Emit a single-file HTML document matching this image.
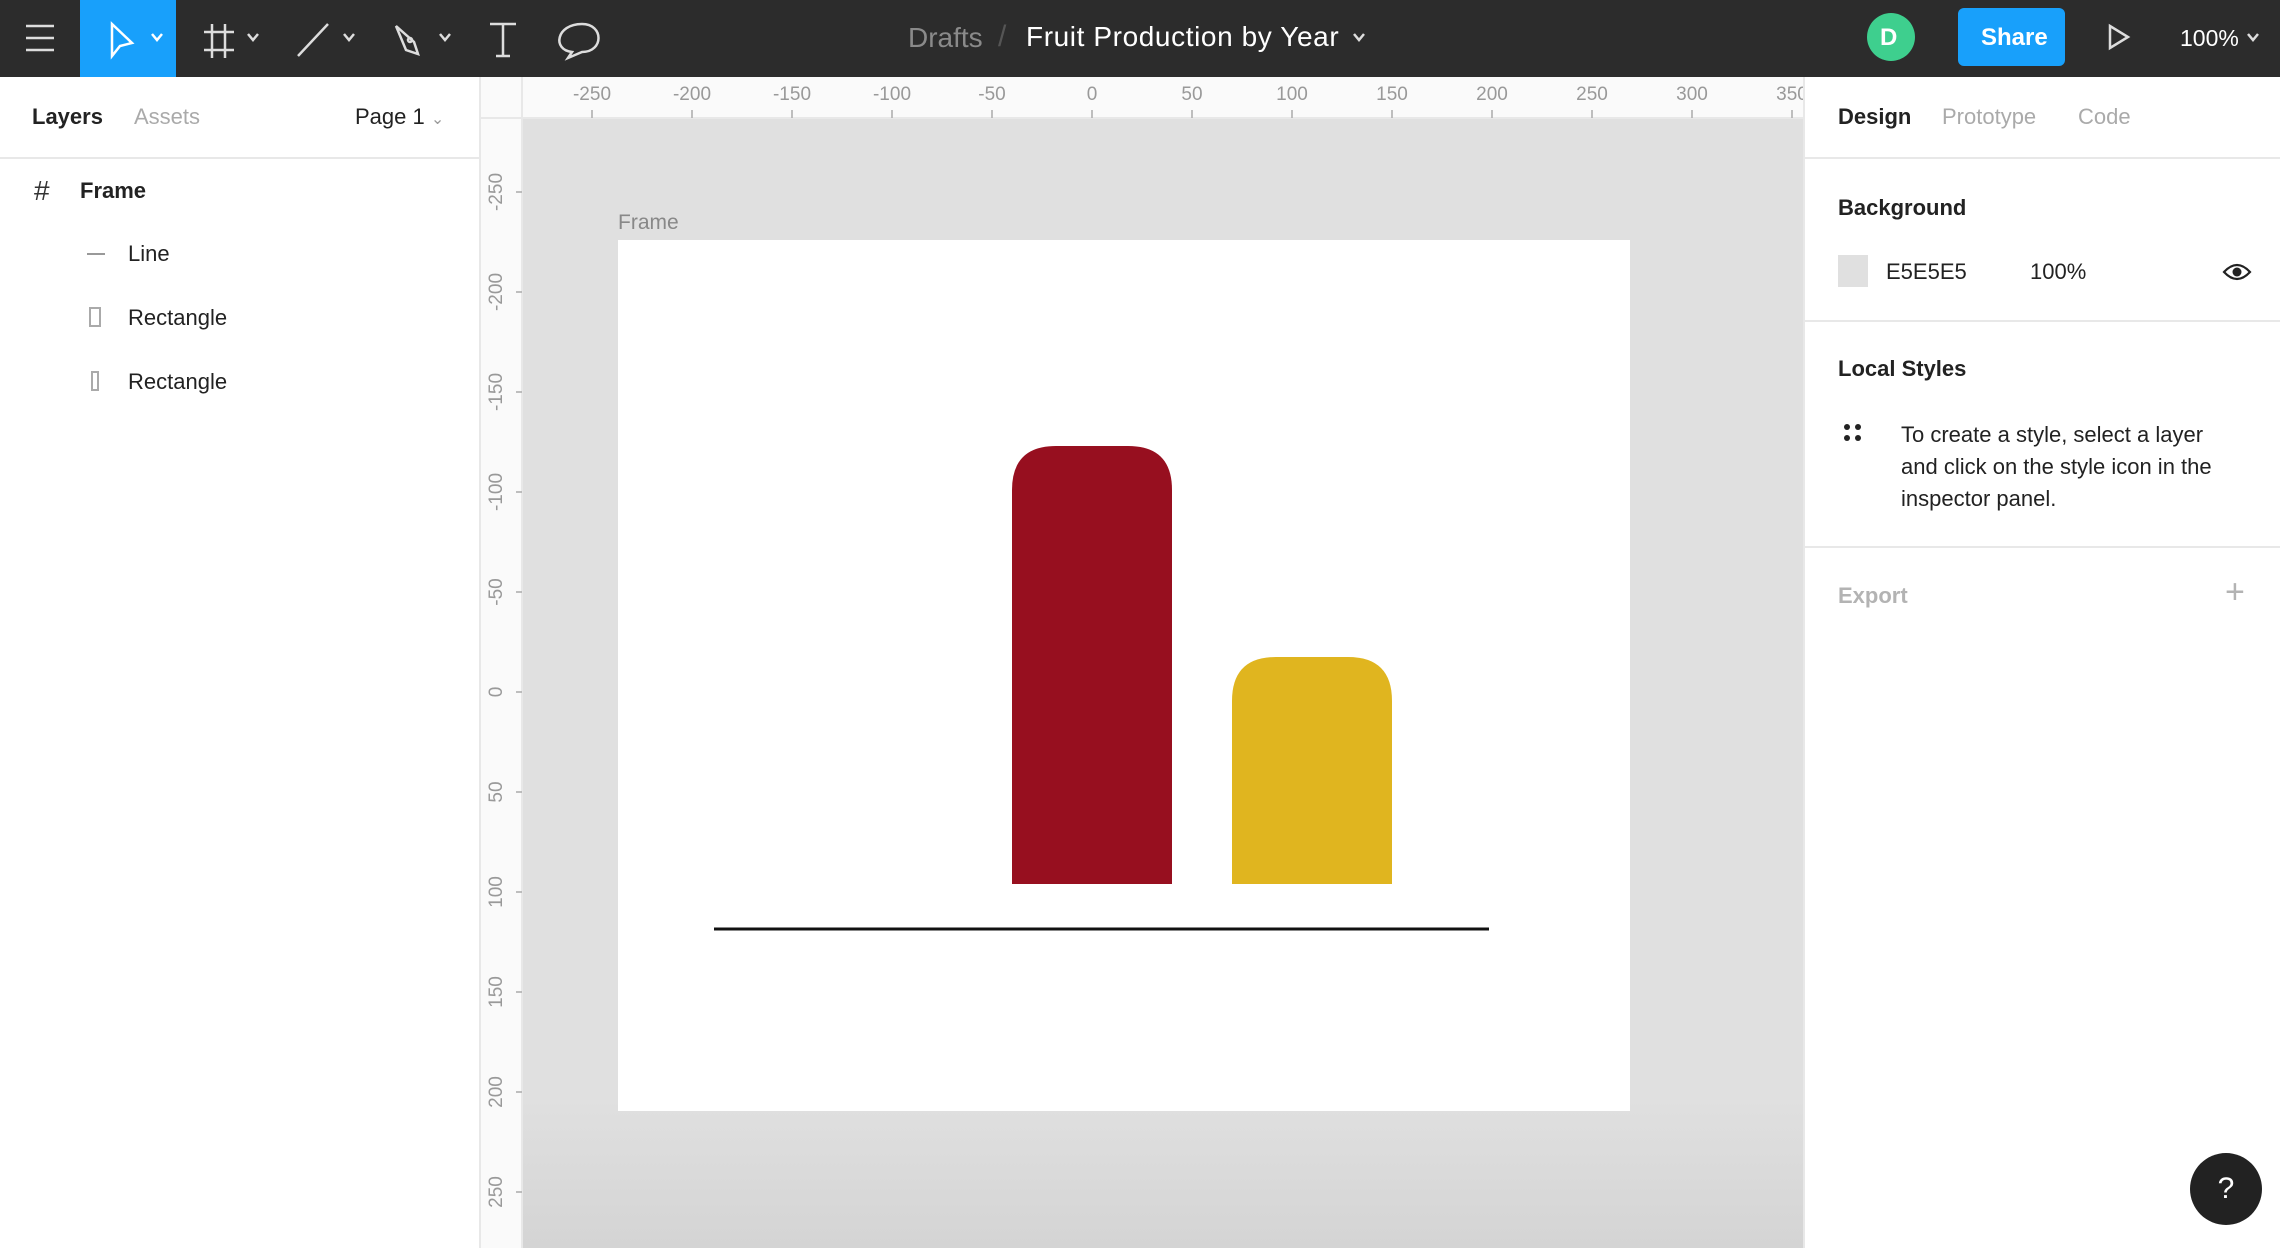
<!DOCTYPE html>
<html><head><meta charset="utf-8">
<style>
*{box-sizing:border-box;margin:0;padding:0}
body{width:2280px;height:1248px;overflow:hidden;position:relative;font-family:"Liberation Sans",sans-serif;background:#fff;color:#222}
.abs{position:absolute}
#toolbar{left:0;top:0;width:2280px;height:77px;background:#2c2c2c}
.t{position:absolute;white-space:nowrap}
#left{left:0;top:77px;width:481px;height:1171px;background:#fff;border-right:2px solid #e8e8e8}
#right{left:1803px;top:77px;width:477px;height:1171px;background:#fff;border-left:2px solid #e8e8e8}
#canvas{left:481px;top:77px;width:1322px;height:1171px;background:#e0e0e0;overflow:hidden}
.hr{height:2px;background:#e8e8e8;position:absolute;left:0;width:100%}
</style></head><body>
<div id="toolbar" class="abs">
  <svg class="abs" style="left:0;top:0" width="2280" height="77">
    <g stroke="#ddd" stroke-width="2.5" fill="none">
      <path d="M26 26h28M26 38h28M26 50h28"/>
    </g>
    <rect x="80" y="0" width="96" height="77" fill="#18a0fb"/>
    <g stroke="#fff" stroke-width="2.5" fill="none">
      <path d="M112 24 L112 56 L120 46 L132 43 Z"/><path d="M152 34l5 6 5-6"/>
    </g>
    <g stroke="#ddd" stroke-width="2.5" fill="none">
      <path d="M212 24v34M225 24v34M204 32h30M204 50h30"/><path d="M248 34l5 6 5-6"/>
      <path d="M298 56 L328 24"/><path d="M344 34l5 6 5-6"/>
      <path d="M396 26 L414 42 L418 54 L406 50 Z"/><circle cx="410" cy="40" r="2"/><path d="M440 34l5 6 5-6"/>
      <path d="M490 24h26M503 24v32M496 56h14"/>
      <path d="M572 52 C552 50 556 24 582 24 C604 24 604 52 582 52 L568 58 Z"/>
    </g>
    <circle cx="1891" cy="37" r="24" fill="#3ecf8e"/>
    <rect x="1958" y="8" width="107" height="58" rx="6" fill="#18a0fb"/>
    <path d="M2110 26 L2110 48 L2128 37 Z" stroke="#ddd" stroke-width="2.5" fill="none"/>
    <path d="M2248 34l5 6 5-6" stroke="#ddd" stroke-width="2.5" fill="none"/>
    <path d="M1354 34l5 6 5-6" stroke="#ddd" stroke-width="2.5" fill="none"/>
  </svg>
  <div class="t" style="left:908px;top:22px;font-size:28px;color:#8a8a8a">Drafts</div>
  <div class="t" style="left:998px;top:20px;font-size:30px;color:#555">/</div>
  <div class="t" style="left:1026px;top:21px;font-size:28px;color:#fff;letter-spacing:0.6px">Fruit Production by Year</div>
  <div class="t" style="left:1880px;top:24px;font-size:24px;color:#fff;font-weight:bold">D</div>
  <div class="t" style="left:1981px;top:24px;font-size:24px;color:#fff;font-weight:bold">Share</div>
  <div class="t" style="left:2180px;top:25px;font-size:23px;color:#fff">100%</div>
</div>

<div id="left" class="abs">
  <div class="t" style="left:32px;top:27px;font-size:22px;font-weight:bold">Layers</div>
  <div class="t" style="left:134px;top:27px;font-size:22px;color:#aaa">Assets</div>
  <div class="t" style="left:355px;top:27px;font-size:22px">Page 1 <span style="color:#999;font-size:16px">&#8964;</span></div>
  <div class="hr" style="top:80px"></div>
  <div class="t" style="left:34px;top:98px;font-size:28px;color:#333">#</div>
  <div class="t" style="left:80px;top:101px;font-size:22px;font-weight:bold">Frame</div>
  <div class="abs" style="left:87px;top:176px;width:18px;height:2px;background:#999"></div>
  <div class="t" style="left:128px;top:164px;font-size:22px">Line</div>
  <div class="abs" style="left:89px;top:230px;width:12px;height:20px;border:2px solid #aaa"></div>
  <div class="t" style="left:128px;top:228px;font-size:22px">Rectangle</div>
  <div class="abs" style="left:91px;top:294px;width:8px;height:20px;border:2px solid #aaa"></div>
  <div class="t" style="left:128px;top:292px;font-size:22px">Rectangle</div>
</div>

<div id="canvas" class="abs">
  <div class="abs" style="left:0;top:1020px;width:1322px;height:151px;background:linear-gradient(#e0e0e0,#d4d4d4)"></div>
  <svg id="rulers" class="abs" style="left:0;top:0" width="1322" height="1171"></svg>
  <div class="t" style="left:137px;top:134px;font-size:21px;color:#888">Frame</div>
  <div class="abs" style="left:137px;top:163px;width:1012px;height:871px;background:#fff"></div>
  <svg id="chart" class="abs" style="left:0;top:0" width="1322" height="1171"></svg>
</div>

<div id="right" class="abs">
  <div class="t" style="left:33px;top:27px;font-size:22px;font-weight:bold">Design</div>
  <div class="t" style="left:137px;top:27px;font-size:22px;color:#aaa">Prototype</div>
  <div class="t" style="left:273px;top:27px;font-size:22px;color:#aaa">Code</div>
  <div class="hr" style="top:80px"></div>
  <div class="t" style="left:33px;top:118px;font-size:22px;font-weight:bold">Background</div>
  <div class="abs" style="left:33px;top:178px;width:30px;height:32px;background:#e0e0e0"></div>
  <div class="t" style="left:81px;top:182px;font-size:22px">E5E5E5</div>
  <div class="t" style="left:225px;top:182px;font-size:22px">100%</div>
  <svg class="abs" style="left:417px;top:183px" width="30" height="24"><path d="M2 12 Q15 -2 28 12 Q15 26 2 12Z" fill="none" stroke="#222" stroke-width="2.2"/><circle cx="15" cy="12" r="4.5" fill="#222"/></svg>
  <div class="hr" style="top:243px"></div>
  <div class="t" style="left:33px;top:279px;font-size:22px;font-weight:bold">Local Styles</div>
  <svg class="abs" style="left:38px;top:346px" width="20" height="20"><circle cx="4" cy="4" r="3" fill="#222"/><circle cx="15" cy="4" r="3" fill="#222"/><circle cx="4" cy="15" r="3" fill="#222"/><circle cx="15" cy="15" r="3" fill="#222"/></svg>
  <div class="t" style="left:96px;top:342px;font-size:22px;line-height:32px">To create a style, select a layer<br>and click on the style icon in the<br>inspector panel.</div>
  <div class="hr" style="top:469px"></div>
  <div class="t" style="left:33px;top:506px;font-size:22px;font-weight:bold;color:#b3b3b3">Export</div>
  <div class="t" style="left:420px;top:496px;font-size:34px;color:#b3b3b3">+</div>
  <div class="abs" style="left:385px;top:1076px;width:72px;height:72px;border-radius:50%;background:#222;color:#fff;font-size:30px;text-align:center;line-height:72px">?</div>
</div>

<script>
const NS='http://www.w3.org/2000/svg';
const hTicks=[-250,-200,-150,-100,-50,0,50,100,150,200,250,300,350];
const vTicks=[-250,-200,-150,-100,-50,0,50,100,150,200,250];
const categories=['Apples','Bananas'];
const values=[219,113.5];
const colors=['#970f1f','#e0b51f'];

function mk(t,a,p){const e=document.createElementNS(NS,t);for(const k in a)e.setAttribute(k,a[k]);p.appendChild(e);return e;}
const X0=611, Y0=615, U=2;
const sx=v=>X0+v*U;
const sy=v=>Y0+v*U;

const r=document.getElementById('rulers');
mk('rect',{x:0,y:0,width:1322,height:41,fill:'#fafafa'},r);
mk('rect',{x:0,y:0,width:41,height:1171,fill:'#fafafa'},r);
mk('line',{x1:0,y1:41,x2:1322,y2:41,stroke:'#e8e8e8','stroke-width':2},r);
mk('line',{x1:41,y1:0,x2:41,y2:1171,stroke:'#e8e8e8','stroke-width':2},r);
hTicks.forEach(v=>{
  const l=mk('line',{x1:sx(v),y1:33,x2:sx(v),y2:41,stroke:'#aaa','stroke-width':1.5},r);
  
  
  const t=mk('text',{x:sx(v),y:23,'text-anchor':'middle','font-size':19,fill:'#999','font-family':'Liberation Sans'},r);
  t.textContent=v;
  
  
});
vTicks.forEach(v=>{
  const l=mk('line',{x1:35,y1:sy(v),x2:41,y2:sy(v),stroke:'#aaa','stroke-width':1.5},r);
  
  
  const t=mk('text',{x:0,y:0,'text-anchor':'middle','font-size':19,fill:'#999','font-family':'Liberation Sans',transform:`translate(21,${sy(v)}) rotate(-90)`},r);
  t.textContent=v;
  
  
});

const c=document.getElementById('chart');
const base=807, barW=160, gap=60, firstX=531, rad=44;
values.forEach((v,i)=>{
  const h=v*U, x=firstX+i*(barW+gap), y=base-h;
  const p=mk('path',{d:`M${x} ${base}V${y+rad}Q${x} ${y} ${x+rad} ${y}H${x+barW-rad}Q${x+barW} ${y} ${x+barW} ${y+rad}V${base}Z`,fill:colors[i]},c);
  
  
});
const ax=mk('line',{x1:233,y1:852,x2:1008,y2:852,stroke:'#111','stroke-width':3},c);


</script>
</body></html>
